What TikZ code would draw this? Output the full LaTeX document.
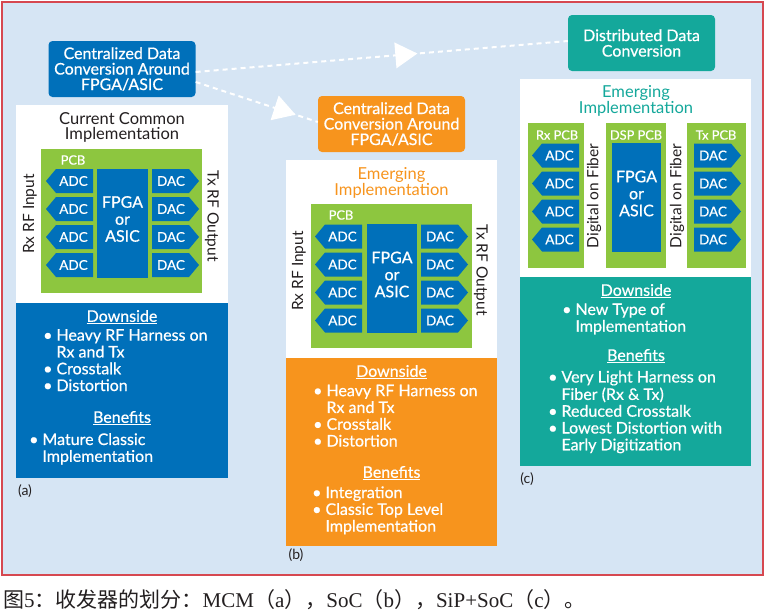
\documentclass[tikz,border=0pt]{standalone}
\usepackage{fontspec}
\setmainfont{Lato}
\newfontfamily\medium{Lato}[FakeBold=0.6]
\newfontfamily\cjk{Noto Sans CJK SC}
\newfontfamily\tms{Liberation Serif}
\usetikzlibrary{decorations.markings}
\definecolor{bgblue}{RGB}{214,229,244}
\definecolor{framered}{RGB}{214,72,80}
\definecolor{ablue}{RGB}{0,112,186}
\definecolor{pgreen}{RGB}{141,198,63}
\definecolor{aorange}{RGB}{247,148,29}
\definecolor{ateal}{RGB}{20,168,155}
\definecolor{ink}{RGB}{35,31,32}
\tikzset{
 titlebox/.style={rounded corners=4pt, text=white, align=center, minimum width=147pt, minimum height=56pt, inner sep=0pt, font=\medium\fontsize{16}{15.5}\selectfont},
 headtxt/.style={align=center, font=\fontsize{16.5}{15.7}\selectfont, inner sep=0pt},
 chip/.style={text=white, font=\medium\fontsize{13.5}{14}\selectfont, inner sep=0pt},
 fpgatxt/.style={text=white, align=center, font=\medium\fontsize{16}{17}\selectfont, inner sep=0pt},
 corebox/.style={fill=ablue, inner sep=0pt},
 pcbtxt/.style={text=white, font=\medium\fontsize{12.8}{13}\selectfont, inner sep=0pt},
 sidetxt/.style={text=ink, font=\fontsize{15.5}{15}\selectfont, inner sep=0pt},
 uhead/.style={text=white, font=\medium\fontsize{16}{16}\selectfont, inner sep=0pt},
 blist/.style={text=white, anchor=west, inner sep=0pt, font=\medium\fontsize{16}{16.7}\selectfont},
 tagtxt/.style={text=ink, font=\fontsize{14}{14}\selectfont, inner sep=0pt},
 link/.style={white, line width=2pt, dash pattern=on 5pt off 4pt},
 midarrow/.style={postaction={decorate}, decoration={markings, mark=at position #1 with {\fill[white] (1pt,0pt) -- (-21pt,13pt) -- (-21pt,-13pt) -- cycle;}}},
}
\newcommand\adcbox[3]{\fill[ablue] (#2,#3) -- (#2+10,#3-12) -- (#2+47,#3-12) -- (#2+47,#3+12) -- (#2+10,#3+12) -- cycle; \node[chip] (#1) at (#2+27.5,#3) {ADC};}
\newcommand\dacbox[3]{\fill[ablue] (#2,#3-12) -- (#2+37,#3-12) -- (#2+47,#3) -- (#2+37,#3+12) -- (#2,#3+12) -- cycle; \node[chip] (#1) at (#2+19,#3) {DAC};}
\newcommand\blt[1]{\begin{tabular}{@{}l@{\hspace{4pt}}l@{}}#1\end{tabular}}
\begin{document}
\begin{tikzpicture}[x=1pt,y=-1pt]
\useasboundingbox (0,0) rectangle (767,613);
\fill[white] (0,0) rectangle (767,613);
\draw[framered, line width=1.5pt, fill=bgblue] (2,2) rectangle (763,575);

% ---------------- panel (a)
\node[titlebox, fill=ablue] (ta) at (122,69) {Centralized Data\\Conversion Around\\FPGA/ASIC};
\fill[white] (16,105) rectangle (228,303);
\node[headtxt, text=ink] (ha) at (122,127.5) {Current Common\\Implementation};
\fill[pgreen] (41,149) rectangle (202,293);
\node[pcbtxt] (pa) at (73,160) {PCB};
\adcbox{aa1}{46}{181}\adcbox{aa2}{46}{209}\adcbox{aa3}{46}{237}\adcbox{aa4}{46}{265}
\node[corebox, minimum width=51pt, minimum height=109pt] (fa) at (122.5,223.5) {};
\node[fpgatxt] (fat) at (122.5,219) {FPGA\\or\\ASIC};
\dacbox{da1}{152}{181}\dacbox{da2}{152}{209}\dacbox{da3}{152}{237}\dacbox{da4}{152}{265}
\node[sidetxt, rotate=90] (rxa) at (30,214) {Rx RF Input};
\node[sidetxt, rotate=-90] (txa) at (212,216) {Tx RF Output};
\fill[ablue] (16,303) rectangle (228,478);
\node[uhead] (dsa) at (122,317) {\underline{Downside}};
\node[blist] (la1) at (43,362.5) {\blt{\textbullet & Heavy RF Harness on\\ & Rx and Tx\\ \textbullet & Crosstalk\\ \textbullet & Distortion}};
\node[uhead] (bna) at (122,418) {\underline{Benefits}};
\node[blist] (la2) at (29,450) {\blt{\textbullet & Mature Classic\\ & Implementation}};
\node[tagtxt] (cpa) at (25,491) {(a)};

% ---------------- panel (b)
\node[titlebox, fill=aorange] (tb) at (391.5,124) {Centralized Data\\Conversion Around\\FPGA/ASIC};
\fill[white] (286,160) rectangle (497,358);
\node[headtxt, text=aorange] (hb) at (391.5,183) {Emerging\\Implementation};
\fill[pgreen] (311,204) rectangle (472,348);
\node[pcbtxt] (pb) at (341,215) {PCB};
\adcbox{ab1}{315}{236.5}\adcbox{ab2}{315}{264.5}\adcbox{ab3}{315}{292.5}\adcbox{ab4}{315}{320.5}
\node[corebox, minimum width=50pt, minimum height=109pt] (fb) at (392,278.5) {};
\node[fpgatxt] (fbt) at (392,274.5) {FPGA\\or\\ASIC};
\dacbox{db1}{421}{236.5}\dacbox{db2}{421}{264.5}\dacbox{db3}{421}{292.5}\dacbox{db4}{421}{320.5}
\node[sidetxt, rotate=90] (rxb) at (299,271) {Rx RF Input};
\node[sidetxt, rotate=-90] (txb) at (481,270) {Tx RF Output};
\fill[aorange] (286,358) rectangle (497,546);
\node[uhead] (dsb) at (391.5,372) {\underline{Downside}};
\node[blist] (lb1) at (313,418) {\blt{\textbullet & Heavy RF Harness on\\ & Rx and Tx\\ \textbullet & Crosstalk\\ \textbullet & Distortion}};
\node[uhead] (bnb) at (391.5,473) {\underline{Benefits}};
\node[blist] (lb2) at (312,511.5) {\blt{\textbullet & Integration\\ \textbullet & Classic Top Level\\ & Implementation}};
\node[tagtxt] (cpb) at (296,555) {(b)};

% ---------------- panel (c)
\node[titlebox, fill=ateal] (tc) at (641.5,43) {Distributed Data\\Conversion};
\fill[white] (520,79) rectangle (751,277);
\node[headtxt, text=ateal] (hc) at (636,101) {Emerging\\Implementation};
\fill[pgreen] (528,123) rectangle (584,268);
\fill[pgreen] (606,123) rectangle (666,268);
\fill[pgreen] (687,123) rectangle (746,268);
\node[pcbtxt] (prx) at (557,135) {Rx PCB};
\node[pcbtxt] (pdsp) at (636,135) {DSP PCB};
\node[pcbtxt] (ptx) at (716,135) {Tx PCB};
\adcbox{ac1}{532}{155.5}\adcbox{ac2}{532}{183.5}\adcbox{ac3}{532}{211.5}\adcbox{ac4}{532}{239.5}
\node[corebox, minimum width=49pt, minimum height=109pt] (fc) at (636.5,197.5) {};
\node[fpgatxt] (fct) at (636.5,193.5) {FPGA\\or\\ASIC};
\dacbox{dc1}{694}{155.5}\dacbox{dc2}{694}{183.5}\dacbox{dc3}{694}{211.5}\dacbox{dc4}{694}{239.5}
\node[sidetxt, rotate=90] (fib1) at (594,196) {Digital on Fiber};
\node[sidetxt, rotate=90] (fib2) at (677,196) {Digital on Fiber};
\fill[ateal] (520,277) rectangle (751,466);
\node[uhead] (dsc) at (636,291) {\underline{Downside}};
\node[blist] (lc1) at (562,320) {\blt{\textbullet & New Type of\\ & Implementation}};
\node[uhead] (bnc) at (636,356) {\underline{Benefits}};
\node[blist] (lc2) at (548,413) {\blt{\textbullet & Very Light Harness on\\ & Fiber (Rx \& Tx)\\ \textbullet & Reduced Crosstalk\\ \textbullet & Lowest Distortion with\\ & Early Digitization}};
\node[tagtxt] (cpc) at (527,479) {(c)};

% ---------------- connectors
\draw[link, midarrow=0.593] ([yshift=-3pt]ta.east) -- ([yshift=2pt]tc.west);
\draw[link, midarrow=0.81] ([yshift=-13pt]ta.east) -- ([yshift=2pt]tb.west);

% ---------------- caption
\node[anchor=west, inner sep=0pt, text=ink, font=\fontsize{21}{22}\selectfont] (cap) at (3,600) {\cjk 图\tms 5\cjk ：收发器的划分：\tms MCM\cjk （\tms a\cjk ），\tms SoC\cjk （\tms b\cjk ），\tms SiP+SoC\cjk （\tms c\cjk ）。};
\end{tikzpicture}
\end{document}
